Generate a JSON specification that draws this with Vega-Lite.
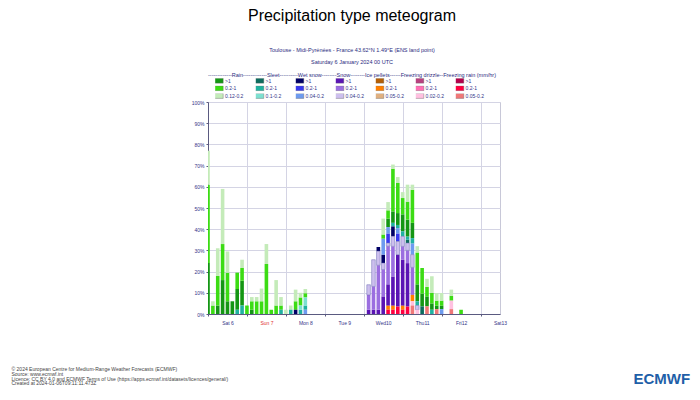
{
"$schema": "https://vega.github.io/schema/vega-lite/v6.json",
"width": 292, "height": 212,
"autosize": {"type": "none"},
"padding": {"left": 208, "top": 102, "right": 200, "bottom": 86},
"background": "white",
"title": {"text": "Precipitation type meteogram",
 "subtitle": ["Toulouse - Midi-Pyrénées - France 43.62°N 1.49°E (ENS land point)", "Saturday 6 January 2024 00 UTC", "-------------Rain-------------Sleet----------Wet snow--------Snow--------Ice pellets------Freezing drizzle--Freezing rain (mm/hr)"],
 "fontSize": 16, "fontWeight": "normal", "color": "#000000", "subtitleFontSize": 5.5, "subtitleColor": "#2b2b80", "subtitleLineHeight": 12.8, "subtitlePadding": 23.5, "offset": -0.5, "anchor": "middle", "frame": "group", "dx": -2},
"config": {
 "font": "Liberation Sans",
 "view": {"stroke": "#c8c8d8"},
 "legend": {"orient": "none", "direction": "vertical", "symbolType": "M-2,-1H2V1H-2Z", "symbolSize": 25, "labelFontSize": 5, "labelColor": "#333388", "labelOffset": 3.8, "rowPadding": 1.6, "clipHeight": 5, "padding": 0, "symbolStrokeWidth": 0.4, "symbolStrokeColor": "#666666", "labelLimit": 0}
},
"data": {"values": [
{"t":"2024-01-06T00:00Z","ty":"Rain","lv":">1","lo":0,"hi":24},
{"t":"2024-01-06T00:00Z","ty":"Rain","lv":"0.2-1","lo":24,"hi":61},
{"t":"2024-01-06T00:00Z","ty":"Rain","lv":"0.12-0.2","lo":61,"hi":77},
{"t":"2024-01-06T03:00Z","ty":"Rain","lv":"0.2-1","lo":0,"hi":4},
{"t":"2024-01-06T03:00Z","ty":"Rain","lv":"0.12-0.2","lo":4,"hi":6},
{"t":"2024-01-06T06:00Z","ty":"Rain","lv":">1","lo":0,"hi":4},
{"t":"2024-01-06T06:00Z","ty":"Rain","lv":"0.2-1","lo":4,"hi":18},
{"t":"2024-01-06T06:00Z","ty":"Rain","lv":"0.12-0.2","lo":18,"hi":31},
{"t":"2024-01-06T09:00Z","ty":"Rain","lv":">1","lo":0,"hi":16},
{"t":"2024-01-06T09:00Z","ty":"Rain","lv":"0.2-1","lo":16,"hi":33},
{"t":"2024-01-06T09:00Z","ty":"Rain","lv":"0.12-0.2","lo":33,"hi":59},
{"t":"2024-01-06T12:00Z","ty":"Rain","lv":">1","lo":0,"hi":6},
{"t":"2024-01-06T12:00Z","ty":"Rain","lv":"0.2-1","lo":6,"hi":19.5},
{"t":"2024-01-06T12:00Z","ty":"Rain","lv":"0.12-0.2","lo":19.5,"hi":29.5},
{"t":"2024-01-06T15:00Z","ty":"Rain","lv":">1","lo":0,"hi":6},
{"t":"2024-01-06T18:00Z","ty":"Sleet","lv":"0.2-1","lo":0,"hi":2},
{"t":"2024-01-06T18:00Z","ty":"Rain","lv":">1","lo":2,"hi":11.8},
{"t":"2024-01-06T18:00Z","ty":"Rain","lv":"0.2-1","lo":11.8,"hi":19.5},
{"t":"2024-01-06T21:00Z","ty":"Sleet","lv":"0.2-1","lo":0,"hi":4},
{"t":"2024-01-06T21:00Z","ty":"Rain","lv":">1","lo":4,"hi":15.7},
{"t":"2024-01-06T21:00Z","ty":"Rain","lv":"0.2-1","lo":15.7,"hi":21.7},
{"t":"2024-01-06T21:00Z","ty":"Rain","lv":"0.12-0.2","lo":21.7,"hi":25.6},
{"t":"2024-01-07T00:00Z","ty":"Rain","lv":"0.2-1","lo":0,"hi":4},
{"t":"2024-01-07T03:00Z","ty":"Rain","lv":">1","lo":0,"hi":2},
{"t":"2024-01-07T03:00Z","ty":"Rain","lv":"0.2-1","lo":2,"hi":6},
{"t":"2024-01-07T03:00Z","ty":"Rain","lv":"0.12-0.2","lo":6,"hi":8},
{"t":"2024-01-07T06:00Z","ty":"Rain","lv":"0.2-1","lo":0,"hi":6},
{"t":"2024-01-07T06:00Z","ty":"Rain","lv":"0.12-0.2","lo":6,"hi":8},
{"t":"2024-01-07T09:00Z","ty":"Rain","lv":"0.2-1","lo":0,"hi":6},
{"t":"2024-01-07T09:00Z","ty":"Rain","lv":"0.12-0.2","lo":6,"hi":12},
{"t":"2024-01-07T12:00Z","ty":"Rain","lv":"0.2-1","lo":0,"hi":23.6},
{"t":"2024-01-07T12:00Z","ty":"Rain","lv":"0.12-0.2","lo":23.6,"hi":33},
{"t":"2024-01-07T15:00Z","ty":"Rain","lv":"0.2-1","lo":0,"hi":2},
{"t":"2024-01-07T18:00Z","ty":"Rain","lv":"0.2-1","lo":0,"hi":4},
{"t":"2024-01-07T18:00Z","ty":"Rain","lv":"0.12-0.2","lo":4,"hi":16},
{"t":"2024-01-07T21:00Z","ty":"Sleet","lv":"0.2-1","lo":0,"hi":2},
{"t":"2024-01-07T21:00Z","ty":"Rain","lv":"0.2-1","lo":2,"hi":4},
{"t":"2024-01-07T21:00Z","ty":"Rain","lv":"0.12-0.2","lo":4,"hi":8},
{"t":"2024-01-08T00:00Z","ty":"Rain","lv":"0.12-0.2","lo":0,"hi":2},
{"t":"2024-01-08T03:00Z","ty":"Sleet","lv":"0.2-1","lo":0,"hi":2},
{"t":"2024-01-08T03:00Z","ty":"Rain","lv":"0.12-0.2","lo":2,"hi":4},
{"t":"2024-01-08T06:00Z","ty":"Wet snow","lv":">1","lo":0,"hi":2},
{"t":"2024-01-08T06:00Z","ty":"Rain","lv":"0.2-1","lo":2,"hi":6},
{"t":"2024-01-08T06:00Z","ty":"Rain","lv":"0.12-0.2","lo":6,"hi":11.5},
{"t":"2024-01-08T09:00Z","ty":"Sleet","lv":"0.2-1","lo":0,"hi":2},
{"t":"2024-01-08T09:00Z","ty":"Sleet","lv":"0.1-0.2","lo":2,"hi":4},
{"t":"2024-01-08T09:00Z","ty":"Rain","lv":"0.2-1","lo":4,"hi":7.8},
{"t":"2024-01-08T09:00Z","ty":"Rain","lv":"0.12-0.2","lo":7.8,"hi":10},
{"t":"2024-01-08T12:00Z","ty":"Wet snow","lv":"0.04-0.2","lo":0,"hi":2},
{"t":"2024-01-08T12:00Z","ty":"Sleet","lv":"0.2-1","lo":2,"hi":4},
{"t":"2024-01-08T12:00Z","ty":"Sleet","lv":"0.1-0.2","lo":4,"hi":7.8},
{"t":"2024-01-08T12:00Z","ty":"Rain","lv":"0.2-1","lo":7.8,"hi":9.8},
{"t":"2024-01-08T12:00Z","ty":"Rain","lv":"0.12-0.2","lo":9.8,"hi":11.8},
{"t":"2024-01-10T03:00Z","ty":"Snow","lv":">1","lo":0,"hi":2},
{"t":"2024-01-10T03:00Z","ty":"Snow","lv":"0.2-1","lo":2,"hi":9},
{"t":"2024-01-10T03:00Z","ty":"Snow","lv":"0.04-0.2","lo":9,"hi":13.8},
{"t":"2024-01-10T06:00Z","ty":"Snow","lv":">1","lo":0,"hi":2},
{"t":"2024-01-10T06:00Z","ty":"Snow","lv":"0.2-1","lo":2,"hi":13},
{"t":"2024-01-10T06:00Z","ty":"Snow","lv":"0.04-0.2","lo":13,"hi":25.6},
{"t":"2024-01-10T09:00Z","ty":"Snow","lv":">1","lo":0,"hi":2},
{"t":"2024-01-10T09:00Z","ty":"Snow","lv":"0.2-1","lo":2,"hi":23},
{"t":"2024-01-10T09:00Z","ty":"Snow","lv":"0.04-0.2","lo":23,"hi":29.6},
{"t":"2024-01-10T09:00Z","ty":"Wet snow","lv":">1","lo":29.6,"hi":31.6},
{"t":"2024-01-10T12:00Z","ty":"Snow","lv":">1","lo":0,"hi":8.3},
{"t":"2024-01-10T12:00Z","ty":"Snow","lv":"0.2-1","lo":8.3,"hi":21},
{"t":"2024-01-10T12:00Z","ty":"Snow","lv":"0.04-0.2","lo":21,"hi":24},
{"t":"2024-01-10T12:00Z","ty":"Wet snow","lv":">1","lo":24,"hi":28},
{"t":"2024-01-10T12:00Z","ty":"Wet snow","lv":"0.04-0.2","lo":28,"hi":35.5},
{"t":"2024-01-10T12:00Z","ty":"Rain","lv":"0.2-1","lo":35.5,"hi":37.5},
{"t":"2024-01-10T12:00Z","ty":"Rain","lv":"0.12-0.2","lo":37.5,"hi":45},
{"t":"2024-01-10T15:00Z","ty":"Freezing rain","lv":"0.2-1","lo":0,"hi":2},
{"t":"2024-01-10T15:00Z","ty":"Ice pellets","lv":"0.2-1","lo":2,"hi":3.9},
{"t":"2024-01-10T15:00Z","ty":"Snow","lv":">1","lo":3.9,"hi":14},
{"t":"2024-01-10T15:00Z","ty":"Snow","lv":"0.2-1","lo":14,"hi":32},
{"t":"2024-01-10T15:00Z","ty":"Snow","lv":"0.04-0.2","lo":32,"hi":33.5},
{"t":"2024-01-10T15:00Z","ty":"Wet snow","lv":"0.2-1","lo":33.5,"hi":38},
{"t":"2024-01-10T15:00Z","ty":"Wet snow","lv":"0.04-0.2","lo":38,"hi":41},
{"t":"2024-01-10T15:00Z","ty":"Rain","lv":">1","lo":41,"hi":45},
{"t":"2024-01-10T15:00Z","ty":"Rain","lv":"0.2-1","lo":45,"hi":48.9},
{"t":"2024-01-10T15:00Z","ty":"Rain","lv":"0.12-0.2","lo":48.9,"hi":52.8},
{"t":"2024-01-10T18:00Z","ty":"Freezing rain","lv":"0.2-1","lo":0,"hi":2},
{"t":"2024-01-10T18:00Z","ty":"Ice pellets","lv":"0.2-1","lo":2,"hi":3.9},
{"t":"2024-01-10T18:00Z","ty":"Snow","lv":">1","lo":3.9,"hi":17.7},
{"t":"2024-01-10T18:00Z","ty":"Snow","lv":"0.2-1","lo":17.7,"hi":31.9},
{"t":"2024-01-10T18:00Z","ty":"Snow","lv":"0.04-0.2","lo":31.9,"hi":36.6},
{"t":"2024-01-10T18:00Z","ty":"Wet snow","lv":">1","lo":36.6,"hi":41.3},
{"t":"2024-01-10T18:00Z","ty":"Sleet","lv":"0.2-1","lo":41.3,"hi":43},
{"t":"2024-01-10T18:00Z","ty":"Rain","lv":">1","lo":43,"hi":48.4},
{"t":"2024-01-10T18:00Z","ty":"Rain","lv":"0.2-1","lo":48.4,"hi":68.5},
{"t":"2024-01-10T18:00Z","ty":"Rain","lv":"0.12-0.2","lo":68.5,"hi":70.5},
{"t":"2024-01-10T21:00Z","ty":"Freezing rain","lv":"0.2-1","lo":0,"hi":3.5},
{"t":"2024-01-10T21:00Z","ty":"Snow","lv":">1","lo":3.5,"hi":28},
{"t":"2024-01-10T21:00Z","ty":"Snow","lv":"0.04-0.2","lo":28,"hi":34.2},
{"t":"2024-01-10T21:00Z","ty":"Wet snow","lv":"0.2-1","lo":34.2,"hi":38},
{"t":"2024-01-10T21:00Z","ty":"Wet snow","lv":"0.04-0.2","lo":38,"hi":40.5},
{"t":"2024-01-10T21:00Z","ty":"Sleet","lv":"0.2-1","lo":40.5,"hi":42},
{"t":"2024-01-10T21:00Z","ty":"Rain","lv":">1","lo":42,"hi":47.6},
{"t":"2024-01-10T21:00Z","ty":"Rain","lv":"0.2-1","lo":47.6,"hi":61.8},
{"t":"2024-01-10T21:00Z","ty":"Rain","lv":"0.12-0.2","lo":61.8,"hi":64.6},
{"t":"2024-01-11T00:00Z","ty":"Freezing rain","lv":"0.2-1","lo":0,"hi":2},
{"t":"2024-01-11T00:00Z","ty":"Ice pellets","lv":"0.2-1","lo":2,"hi":3.9},
{"t":"2024-01-11T00:00Z","ty":"Snow","lv":">1","lo":3.9,"hi":25.6},
{"t":"2024-01-11T00:00Z","ty":"Snow","lv":"0.2-1","lo":25.6,"hi":31.9},
{"t":"2024-01-11T00:00Z","ty":"Snow","lv":"0.04-0.2","lo":31.9,"hi":36.6},
{"t":"2024-01-11T00:00Z","ty":"Sleet","lv":"0.2-1","lo":36.6,"hi":39},
{"t":"2024-01-11T00:00Z","ty":"Rain","lv":">1","lo":39,"hi":47},
{"t":"2024-01-11T00:00Z","ty":"Rain","lv":"0.2-1","lo":47,"hi":54.7},
{"t":"2024-01-11T00:00Z","ty":"Rain","lv":"0.12-0.2","lo":54.7,"hi":57.5},
{"t":"2024-01-11T03:00Z","ty":"Freezing rain","lv":"0.2-1","lo":0,"hi":3.5},
{"t":"2024-01-11T03:00Z","ty":"Snow","lv":">1","lo":3.5,"hi":24},
{"t":"2024-01-11T03:00Z","ty":"Snow","lv":"0.2-1","lo":24,"hi":30},
{"t":"2024-01-11T03:00Z","ty":"Snow","lv":"0.04-0.2","lo":30,"hi":33.5},
{"t":"2024-01-11T03:00Z","ty":"Sleet","lv":">1","lo":33.5,"hi":35},
{"t":"2024-01-11T03:00Z","ty":"Sleet","lv":"0.2-1","lo":35,"hi":36.5},
{"t":"2024-01-11T03:00Z","ty":"Rain","lv":">1","lo":36.5,"hi":44.5},
{"t":"2024-01-11T03:00Z","ty":"Rain","lv":"0.2-1","lo":44.5,"hi":53},
{"t":"2024-01-11T03:00Z","ty":"Rain","lv":"0.12-0.2","lo":53,"hi":61},
{"t":"2024-01-11T06:00Z","ty":"Freezing rain","lv":"0.05-0.2","lo":0,"hi":4},
{"t":"2024-01-11T06:00Z","ty":"Freezing drizzle","lv":"0.02-0.2","lo":4,"hi":6},
{"t":"2024-01-11T06:00Z","ty":"Ice pellets","lv":"0.2-1","lo":6,"hi":9},
{"t":"2024-01-11T06:00Z","ty":"Snow","lv":"0.2-1","lo":9,"hi":22},
{"t":"2024-01-11T06:00Z","ty":"Snow","lv":"0.04-0.2","lo":22,"hi":28},
{"t":"2024-01-11T06:00Z","ty":"Wet snow","lv":"0.04-0.2","lo":28,"hi":33.2},
{"t":"2024-01-11T06:00Z","ty":"Sleet","lv":"0.2-1","lo":33.2,"hi":35.8},
{"t":"2024-01-11T06:00Z","ty":"Rain","lv":">1","lo":35.8,"hi":43},
{"t":"2024-01-11T06:00Z","ty":"Rain","lv":"0.2-1","lo":43,"hi":58.6},
{"t":"2024-01-11T06:00Z","ty":"Rain","lv":"0.12-0.2","lo":58.6,"hi":61},
{"t":"2024-01-11T09:00Z","ty":"Freezing drizzle","lv":"0.02-0.2","lo":0,"hi":2},
{"t":"2024-01-11T09:00Z","ty":"Snow","lv":"0.04-0.2","lo":2,"hi":4},
{"t":"2024-01-11T09:00Z","ty":"Sleet","lv":"0.2-1","lo":4,"hi":6},
{"t":"2024-01-11T09:00Z","ty":"Rain","lv":">1","lo":6,"hi":14},
{"t":"2024-01-11T09:00Z","ty":"Rain","lv":"0.2-1","lo":14,"hi":29},
{"t":"2024-01-11T09:00Z","ty":"Rain","lv":"0.12-0.2","lo":29,"hi":32},
{"t":"2024-01-11T12:00Z","ty":"Sleet","lv":">1","lo":0,"hi":3.6},
{"t":"2024-01-11T12:00Z","ty":"Rain","lv":">1","lo":3.6,"hi":9.6},
{"t":"2024-01-11T12:00Z","ty":"Rain","lv":"0.2-1","lo":9.6,"hi":21.7},
{"t":"2024-01-11T15:00Z","ty":"Freezing rain","lv":"0.05-0.2","lo":0,"hi":3.6},
{"t":"2024-01-11T15:00Z","ty":"Rain","lv":">1","lo":3.6,"hi":8.3},
{"t":"2024-01-11T15:00Z","ty":"Rain","lv":"0.2-1","lo":8.3,"hi":12.8},
{"t":"2024-01-11T15:00Z","ty":"Rain","lv":"0.12-0.2","lo":12.8,"hi":16.6},
{"t":"2024-01-11T18:00Z","ty":"Sleet","lv":"0.2-1","lo":0,"hi":2},
{"t":"2024-01-11T18:00Z","ty":"Rain","lv":">1","lo":2,"hi":5},
{"t":"2024-01-11T18:00Z","ty":"Rain","lv":"0.2-1","lo":5,"hi":9.9},
{"t":"2024-01-11T18:00Z","ty":"Rain","lv":"0.12-0.2","lo":9.9,"hi":17.8},
{"t":"2024-01-11T21:00Z","ty":"Freezing rain","lv":"0.05-0.2","lo":0,"hi":2.3},
{"t":"2024-01-11T21:00Z","ty":"Rain","lv":">1","lo":2.3,"hi":3.9},
{"t":"2024-01-11T21:00Z","ty":"Rain","lv":"0.2-1","lo":3.9,"hi":6.3},
{"t":"2024-01-11T21:00Z","ty":"Rain","lv":"0.12-0.2","lo":6.3,"hi":9.9},
{"t":"2024-01-12T00:00Z","ty":"Wet snow","lv":"0.04-0.2","lo":0,"hi":2.3},
{"t":"2024-01-12T00:00Z","ty":"Rain","lv":">1","lo":2.3,"hi":3.9},
{"t":"2024-01-12T00:00Z","ty":"Rain","lv":"0.2-1","lo":3.9,"hi":6.3},
{"t":"2024-01-12T00:00Z","ty":"Rain","lv":"0.12-0.2","lo":6.3,"hi":9.9},
{"t":"2024-01-12T06:00Z","ty":"Freezing rain","lv":"0.05-0.2","lo":0,"hi":2.3},
{"t":"2024-01-12T06:00Z","ty":"Freezing drizzle","lv":"0.02-0.2","lo":2.3,"hi":6.3},
{"t":"2024-01-12T06:00Z","ty":"Rain","lv":"0.2-1","lo":6.3,"hi":8.6},
{"t":"2024-01-12T06:00Z","ty":"Rain","lv":"0.12-0.2","lo":8.6,"hi":11.5},
{"t":"2024-01-12T12:00Z","ty":"Rain","lv":"0.2-1","lo":0,"hi":2}
]},
"encoding": {
 "x": {"field": "t", "type": "temporal",
  "scale": {"type": "utc", "nice": false, "padding": 0, "domain": [{"year": 2024, "month": 1, "date": 6, "hours": 0, "utc": true}, {"year": 2024, "month": 1, "date": 13, "hours": 12, "utc": true}]},
  "axis": {"values": [{"year": 2024, "month": 1, "date": 6, "utc": true}, {"year": 2024, "month": 1, "date": 7, "utc": true}, {"year": 2024, "month": 1, "date": 8, "utc": true}, {"year": 2024, "month": 1, "date": 9, "utc": true}, {"year": 2024, "month": 1, "date": 10, "utc": true}, {"year": 2024, "month": 1, "date": 11, "utc": true}, {"year": 2024, "month": 1, "date": 12, "utc": true}, {"year": 2024, "month": 1, "date": 13, "utc": true}],
   "labelExpr": "utcFormat(datum.value, '%a%e')", "labelOffset": 19.5, "labelFlush": false, "labelOverlap": false,
   "grid": true, "gridColor": "#d4d4e4", "tickSize": 2, "tickColor": "#5a5a80", "domainColor": "#5a5a80",
   "labelFontSize": 5, "labelPadding": 4, "labelColor": {"condition": {"test": "utcday(datum.value) == 0", "value": "#e03030"}, "value": "#333388"},
   "title": ["© 2024 European Centre for Medium-Range Weather Forecasts (ECMWF)", "Source: www.ecmwf.int", "Licence: CC BY 4.0 and ECMWF Terms of Use (https://apps.ecmwf.int/datasets/licences/general/)", "Created at 2024-01-06T09:11:11.473Z"],
   "titleX": -197, "titleY": 52.5, "titleAlign": "left", "titleAnchor": "start", "titleBaseline": "top", "titleFontSize": 5, "titleLineHeight": 4.8, "titleFontWeight": "normal", "titleColor": "#444444", "titleAngle": 0}},
 "y": {"field": "lo", "type": "quantitative", "scale": {"domain": [0, 100], "nice": false},
  "axis": {"values": [0, 10, 20, 30, 40, 50, 60, 70, 80, 90, 100], "labelExpr": "datum.value + '%'", "grid": true, "gridColor": "#d4d4e4", "tickSize": 2, "tickColor": "#5a5a80", "domainColor": "#5a5a80", "labelFontSize": 5, "labelPadding": 2, "labelColor": "#333388",
   "title": "ECMWF", "titleAngle": 0, "titleX": 425, "titleY": 281.5, "titleAlign": "left", "titleBaseline": "alphabetic", "titleFontSize": 15, "titleFontWeight": "bold", "titleColor": "#1f5fa8"}},
 "y2": {"field": "hi"}
},
"layer": [
 {"transform": [{"filter": "datum.ty == 'Rain'"}], "mark": {"type": "bar", "width": 3.6, "clip": true},
  "encoding": {"color": {"field": "lv", "type": "nominal", "scale": {"domain": [">1", "0.2-1", "0.12-0.2"], "range": ["#149614", "#3cdc14", "#c4ebb9"]}, "legend": {"title": null, "legendX": 7.2, "legendY": -23.8}}}},
 {"transform": [{"filter": "datum.ty == 'Sleet'"}], "mark": {"type": "bar", "width": 3.6, "clip": true},
  "encoding": {"color": {"field": "lv", "type": "nominal", "scale": {"domain": [">1", "0.2-1", "0.1-0.2"], "range": ["#0d6b5e", "#20b2a0", "#7de0d0"]}, "legend": {"title": null, "legendX": 47.8, "legendY": -23.8}}}},
 {"transform": [{"filter": "datum.ty == 'Wet snow'"}], "mark": {"type": "bar", "width": 3.6, "clip": true},
  "encoding": {"color": {"field": "lv", "type": "nominal", "scale": {"domain": [">1", "0.2-1", "0.04-0.2"], "range": ["#000066", "#3838ee", "#6e9bef"]}, "legend": {"title": null, "legendX": 87.8, "legendY": -23.8}}}},
 {"transform": [{"filter": "datum.ty == 'Snow'"}], "mark": {"type": "bar", "width": 3.6, "clip": true, "strokeWidth": 0.5},
  "encoding": {"color": {"field": "lv", "type": "nominal", "scale": {"domain": [">1", "0.2-1", "0.04-0.2"], "range": ["#5a14b4", "#9b6ee0", "#cdbfee"]}, "legend": {"title": null, "legendX": 127.8, "legendY": -23.8}},
   "stroke": {"condition": {"test": "datum.lv == '0.04-0.2'", "value": "#6c6cb4"}, "value": null}}},
 {"transform": [{"filter": "datum.ty == 'Ice pellets'"}], "mark": {"type": "bar", "width": 3.6, "clip": true},
  "encoding": {"color": {"field": "lv", "type": "nominal", "scale": {"domain": [">1", "0.2-1", "0.05-0.2"], "range": ["#b45f06", "#ff7f00", "#e0b080"]}, "legend": {"title": null, "legendX": 167.8, "legendY": -23.8}}}},
 {"transform": [{"filter": "datum.ty == 'Freezing drizzle'"}], "mark": {"type": "bar", "width": 3.6, "clip": true},
  "encoding": {"color": {"field": "lv", "type": "nominal", "scale": {"domain": [">1", "0.2-1", "0.02-0.2"], "range": ["#b8407f", "#ff6eb4", "#ffc0e0"]}, "legend": {"title": null, "legendX": 207.8, "legendY": -23.8}}}},
 {"transform": [{"filter": "datum.ty == 'Freezing rain'"}], "mark": {"type": "bar", "width": 3.6, "clip": true},
  "encoding": {"color": {"field": "lv", "type": "nominal", "scale": {"domain": [">1", "0.2-1", "0.05-0.2"], "range": ["#b4004b", "#ff0040", "#f07878"]}, "legend": {"title": null, "legendX": 247.8, "legendY": -23.8}}}}
],
"resolve": {"scale": {"color": "independent"}}
}
